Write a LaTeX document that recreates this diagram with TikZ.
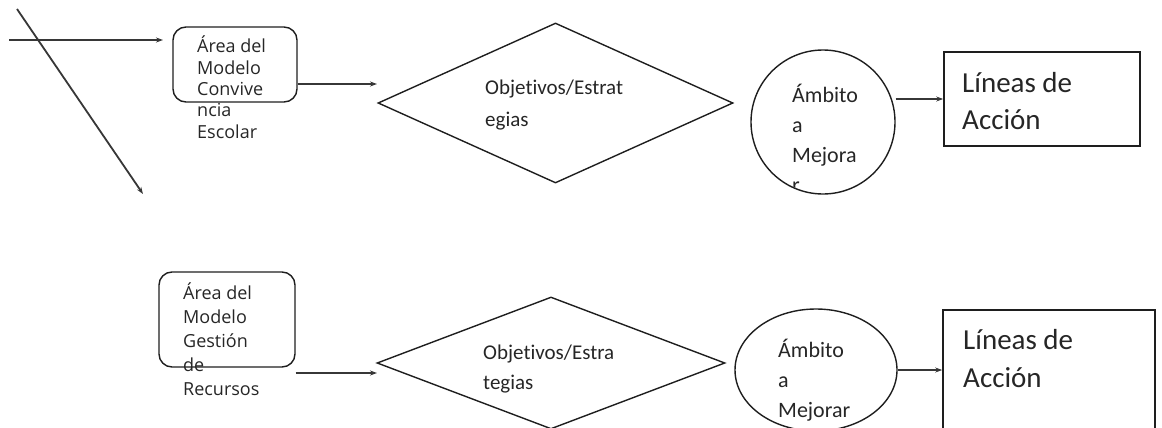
\documentclass[tikz,border=0pt]{standalone}
\usepackage{fontspec}
\setmainfont{Carlito}[Ligatures=NoCommon]
\newfontfamily\areafont{Open Sans}
\usetikzlibrary{shapes,arrows.meta,calc}
\definecolor{linecolor}{RGB}{30,30,30}
\definecolor{arrowcolor}{RGB}{55,55,55}

\begin{document}
\begin{tikzpicture}[
    x=1pt, y=-1pt,
    areabox/.style={rectangle, rounded corners=13pt, draw=linecolor, line width=1.4pt, inner sep=0pt},
    goal/.style={diamond, draw=linecolor, line width=1.4pt, inner sep=0pt},
    ambit/.style={ellipse, draw=linecolor, line width=1.4pt, inner sep=0pt},
    actionbox/.style={rectangle, draw=linecolor, line width=1.6pt, inner sep=0pt},
    flow/.style={-{Stealth[length=7pt, width=5pt]}, line width=1.8pt, arrowcolor},
    txt/.style={anchor=base west, inner sep=0pt, align=left, text=black!85},
    areatxt/.style={txt, font=\areafont\fontsize{18}{21.3}\selectfont},
    goaltxt/.style={txt, font=\fontsize{21}{32}\selectfont},
    ambittxt/.style={txt, font=\fontsize{22}{30}\selectfont},
    actiontxt/.style={txt, font=\fontsize{29}{37}\selectfont}
]
    \path[use as bounding box, clip] (0,0) rectangle (1162,428);

    % Convivencia Escolar (text nodes are placed by the baseline of their last line)
    \coordinate (cin) at (9,40);
    \coordinate (cend) at (163,40);
    \coordinate (dstart) at (17,9);
    \coordinate (dend) at (143,194);
    \node[areabox, minimum width=124pt, minimum height=75pt] (conv) at (235,64.5) {};
    \node[goal, minimum width=355pt, minimum height=160pt] (obj1) at (555.5,103) {};
    \node[ambit, minimum width=144pt, minimum height=144pt] (amb1) at (823,122) {};
    \node[actionbox, minimum width=196pt, minimum height=94pt] (lin1) at (1042,99) {};

    \node[areatxt] (convtxt) at (197,138) {Área del\\Modelo\\Convive\\ncia\\Escolar};
    \node[goaltxt] (obj1txt) at (485,126) {Objetivos/Estrat\\egias};
    \begin{scope}
        \clip (amb1.center) circle[radius=71pt];
        \node[ambittxt] (amb1txt) at (792,192) {Ámbito\\a\\Mejora\\r};
    \end{scope}
    \node[actiontxt] (lin1txt) at (962,129) {Líneas de\\Acción};

    \coordinate (obj1in) at (377,84);
    \draw[flow] (cin) -- (cend);
    \draw[flow] (dstart) -- (dend);
    \draw[flow] (conv.east |- obj1in) -- (obj1in);
    \draw[flow] (amb1.east |- lin1.west) -- (lin1.west);

    % Gestion de Recursos
    \node[areabox, minimum width=136pt, minimum height=95pt] (gest) at (227,319.5) {};
    \node[goal, minimum width=348pt, minimum height=132pt] (obj2) at (551,363) {};
    \node[ambit, minimum width=162pt, minimum height=122pt] (amb2) at (816,370) {};
    \node[actionbox, minimum width=212pt, minimum height=140pt] (lin2) at (1049,380) {};

    \node[areatxt, font=\areafont\fontsize{18}{24}\selectfont] (gesttxt) at (183,395) {Área del\\Modelo\\Gestión\\de\\Recursos};
    \node[goaltxt, font=\fontsize{21}{30}\selectfont] (obj2txt) at (483,389) {Objetivos/Estra\\tegias};
    \node[ambittxt] (amb2txt) at (778,417) {Ámbito\\a\\Mejorar};
    \node[actiontxt, font=\fontsize{29}{38}\selectfont] (lin2txt) at (963,387) {Líneas de\\Acción};

    \coordinate (obj2in) at (377,373);
    \draw[flow] (gest.east |- obj2in) -- (obj2in);
    \draw[flow] (amb2.east) -- (amb2.east -| lin2.west);
\end{tikzpicture}
\end{document}
